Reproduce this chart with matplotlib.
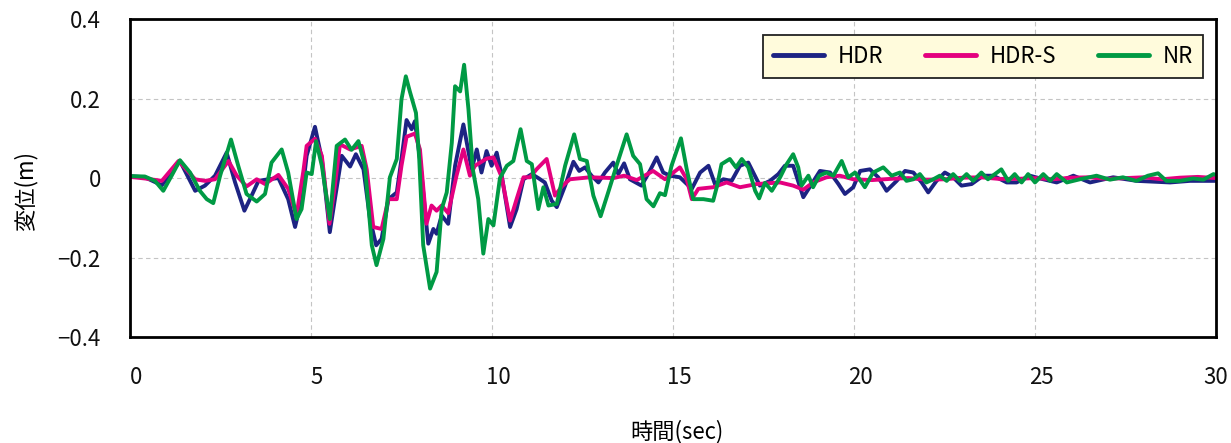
import numpy as np
import matplotlib
matplotlib.use('Agg')
import matplotlib.pyplot as plt
import matplotlib.transforms as mtransforms

plt.rcParams['font.family'] = ['Noto Sans CJK JP', 'DejaVu Sans']

# HDR (navy)
hdr_t = [0, 0.41, 0.88, 1.38, 1.80, 2.07, 2.35, 2.67, 2.90, 3.16, 3.36, 3.55, 3.82, 4.10, 4.37, 4.56,
         4.74, 4.88, 5.11, 5.30, 5.52, 5.66, 5.85, 6.08, 6.24, 6.45, 6.63, 6.80, 6.95, 7.14, 7.37, 7.50,
         7.64, 7.78, 7.87, 8.01, 8.24, 8.38, 8.47, 8.61, 8.79, 8.98, 9.21, 9.44, 9.58, 9.71, 9.85, 9.99,
         10.13, 10.27, 10.50, 10.68, 10.87, 11.10, 11.28, 11.46, 11.65, 11.79, 12.02, 12.25, 12.41, 12.57,
         12.75, 12.94, 13.12, 13.35, 13.49, 13.65, 13.81, 14.13, 14.36, 14.55, 14.73, 14.92, 15.19, 15.52,
         15.75, 15.98, 16.16, 16.39, 16.62, 16.85, 17.08, 17.40, 17.68, 17.91, 18.09, 18.32, 18.60, 18.83,
         19.06, 19.34, 19.57, 19.75, 19.98, 20.17, 20.44, 20.67, 20.90, 21.18, 21.41, 21.64, 21.87, 22.05,
         22.28, 22.51, 22.74, 22.97, 23.25, 23.57, 23.85, 24.22, 24.49, 24.86, 25.23, 25.60, 26.06, 26.52,
         27.16, 27.81, 28.73, 29.28, 30.0]
hdr_v = [0.005, 0.002, -0.018, 0.043, -0.032, -0.019, 0.006, 0.064, -0.01, -0.082, -0.044, -0.007, -0.003,
         0.0, -0.053, -0.123, -0.053, 0.056, 0.129, 0.048, -0.136, -0.053, 0.056, 0.029, 0.06, 0.022, -0.103,
         -0.169, -0.153, -0.053, -0.036, 0.048, 0.146, 0.123, 0.143, 0.048, -0.165, -0.128, -0.14, -0.094,
         -0.115, 0.031, 0.135, 0.022, 0.072, 0.014, 0.068, 0.031, 0.064, 0.006, -0.123, -0.078, -0.003, 0.01,
         0.0, -0.011, -0.057, -0.073, -0.019, 0.041, 0.018, 0.027, 0.006, -0.011, 0.014, 0.039, 0.01, 0.037,
         -0.003, -0.019, 0.018, 0.052, 0.014, 0.006, 0.002, -0.027, 0.014, 0.031, -0.015, -0.003, -0.007,
         0.031, 0.039, -0.019, -0.007, 0.01, 0.031, 0.031, -0.048, -0.015, 0.018, 0.014, -0.015, -0.04,
         -0.023, 0.018, 0.022, 0.002, -0.032, -0.007, 0.018, 0.014, -0.011, -0.036, -0.007, 0.014, 0.002,
         -0.019, -0.015, 0.006, 0.006, -0.011, -0.011, 0.006, -0.003, -0.011, 0.006, -0.011, 0.002, -0.007,
         -0.011, -0.007, -0.007]

# HDR-S (magenta)
hdrs_t = [0, 0.41, 0.88, 1.34, 1.80, 2.07, 2.35, 2.72, 2.95, 3.22, 3.50, 3.73, 4.10, 4.37, 4.60, 4.79,
          4.88, 5.11, 5.30, 5.51, 5.66, 5.80, 6.08, 6.40, 6.54, 6.72, 6.95, 7.14, 7.37, 7.50, 7.64, 7.87,
          8.01, 8.19, 8.33, 8.47, 8.61, 8.79, 9.02, 9.21, 9.39, 9.53, 9.85, 10.04, 10.27, 10.50, 10.68,
          10.87, 11.05, 11.23, 11.51, 11.74, 11.93, 12.15, 12.70, 13.35, 13.65, 14.0, 14.45, 14.78, 15.19,
          15.38, 15.52, 15.70, 16.11, 16.48, 16.85, 17.31, 17.96, 18.32, 18.60, 18.87, 19.24, 19.61, 19.98,
          20.5, 21.0, 21.5, 22.0, 22.5, 23.0, 23.5, 24.0, 24.5, 25.0, 25.5, 26.0, 26.5, 27.0, 27.5, 28.0,
          28.5, 29.0, 29.5, 30.0]
hdrs_v = [0.003, -0.001, -0.007, 0.043, -0.003, -0.007, -0.003, 0.043, 0.006, -0.021, -0.003, -0.015,
          0.008, -0.027, -0.094, 0.018, 0.081, 0.099, 0.056, -0.115, -0.019, 0.085, 0.072, 0.081, 0.022,
          -0.123, -0.128, -0.053, -0.053, 0.031, 0.104, 0.112, 0.072, -0.115, -0.069, -0.082, -0.069, -0.088,
          0.006, 0.072, 0.006, 0.031, 0.049, 0.052, 0.002, -0.107, -0.053, 0.002, 0.002, 0.022, 0.048, -0.044,
          -0.021, -0.003, 0.002, 0.0, 0.006, -0.005, 0.018, -0.003, 0.027, -0.003, -0.053, -0.027, -0.023,
          -0.011, -0.023, -0.015, -0.011, -0.019, -0.029, -0.011, 0.002, 0.006, -0.003, -0.005, -0.002, 0.0,
          -0.004, -0.003, 0.001, 0.002, -0.002, -0.002, 0.0, -0.003, 0.001, 0.002, -0.002, 0.0, 0.002, -0.003,
          0.001, 0.003, 0.0]

# NR (green)
nr_t = [0, 0.41, 0.69, 0.92, 1.15, 1.38, 1.66, 1.93, 2.12, 2.30, 2.49, 2.79, 2.99, 3.22, 3.50, 3.73, 3.91,
        4.19, 4.37, 4.60, 4.74, 4.88, 5.02, 5.14, 5.30, 5.52, 5.71, 5.94, 6.12, 6.31, 6.49, 6.68, 6.81, 7.0,
        7.18, 7.37, 7.50, 7.62, 7.73, 7.90, 7.99, 8.10, 8.29, 8.47, 8.61, 8.75, 8.89, 8.98, 9.12, 9.23, 9.35,
        9.47, 9.62, 9.76, 9.90, 10.04, 10.22, 10.41, 10.59, 10.79, 10.96, 11.10, 11.28, 11.42, 11.56, 11.79,
        12.02, 12.27, 12.43, 12.62, 12.80, 13.0, 13.21, 13.44, 13.72, 13.90, 14.09, 14.27, 14.46, 14.64,
        14.78, 14.96, 15.22, 15.38, 15.56, 15.84, 16.11, 16.22, 16.34, 16.57, 16.74, 16.90, 17.08, 17.27,
        17.38, 17.54, 17.73, 17.96, 18.14, 18.32, 18.46, 18.55, 18.74, 18.87, 19.04, 19.24, 19.43, 19.66,
        19.84, 20.03, 20.3, 20.53, 20.81, 21.04, 21.27, 21.45, 21.64, 21.82, 22.0, 22.19, 22.37, 22.56,
        22.74, 22.92, 23.11, 23.29, 23.52, 23.7, 24.07, 24.26, 24.44, 24.63, 24.81, 25.0, 25.23, 25.42,
        25.6, 25.88, 26.24, 26.7, 27.07, 27.43, 27.8, 28.12, 28.4, 28.63, 29.0, 29.37, 29.65, 29.93, 30.0]
nr_v = [0.005, 0.004, -0.007, -0.032, 0.006, 0.045, 0.014, -0.032, -0.053, -0.063, 0.006, 0.097, 0.031,
        -0.04, -0.059, -0.04, 0.039, 0.072, 0.014, -0.103, -0.078, 0.014, 0.01, 0.093, 0.031, -0.103, 0.081,
        0.097, 0.071, 0.093, 0.031, -0.169, -0.219, -0.153, 0.002, 0.048, 0.198, 0.256, 0.218, 0.164, 0.048,
        -0.169, -0.278, -0.236, -0.078, -0.036, 0.089, 0.231, 0.218, 0.285, 0.173, 0.022, -0.053, -0.19,
        -0.103, -0.119, 0.0, 0.031, 0.043, 0.123, 0.043, 0.035, -0.078, -0.023, -0.069, -0.065, 0.031, 0.11,
        0.048, 0.043, -0.044, -0.096, -0.036, 0.031, 0.11, 0.056, 0.035, -0.053, -0.071, -0.038, -0.043,
        0.031, 0.1, 0.022, -0.053, -0.053, -0.057, -0.019, 0.035, 0.048, 0.027, 0.048, 0.027, -0.032, -0.051,
        -0.012, -0.032, 0.002, 0.035, 0.06, 0.027, -0.019, 0.006, -0.023, 0.006, 0.014, 0.006, 0.043, 0.002,
        0.014, -0.023, 0.014, 0.027, 0.006, 0.014, -0.007, -0.003, 0.01, -0.011, -0.003, 0.006, -0.007, 0.01,
        -0.007, 0.01, -0.007, 0.014, -0.003, 0.022, -0.007, 0.01, -0.011, 0.01, -0.011, 0.01, -0.007, 0.01,
        -0.011, -0.003, 0.006, -0.004, 0.002, -0.007, 0.006, 0.012, -0.007, -0.007, -0.001, -0.004, 0.01,
        0.008]

x_ticks = [0, 5, 10, 15, 20, 25, 30]
y_ticks = [-0.4, -0.2, 0, 0.2, 0.4]
y_ticklabels = ['\u22120.4', '\u22120.2', '0', '0.2', '0.4']

series = [('HDR', hdr_t, hdr_v, '#1d2383'),
          ('HDR-S', hdrs_t, hdrs_v, '#e4007f'),
          ('NR', nr_t, nr_v, '#009a44')]

fig = plt.figure(figsize=(12.31, 4.43), dpi=100)
ax = fig.add_axes([0.1056, 0.239, 0.8822, 0.718])

for name, t, v, c in series:
    ax.plot(t, v, color=c, lw=2.8, label=name, solid_joinstyle='round', solid_capstyle='round')

ax.set_xlim(0, 30)
ax.set_ylim(-0.4, 0.4)
ax.set_xticks(x_ticks)
ax.set_yticks(y_ticks)
ax.set_yticklabels(y_ticklabels)
ax.tick_params(length=0, labelsize=16, colors='#111111')
ax.tick_params(axis='x', pad=21)
ax.tick_params(axis='y', pad=21)
# x tick labels sit a little right of the grid lines in the original (except the last)
shift = mtransforms.ScaledTranslation(6 / 100, 0, fig.dpi_scale_trans)
for lab in ax.get_xticklabels()[:-1]:
    lab.set_transform(lab.get_transform() + shift)

ax.grid(True, color='#c4c4c4', linestyle=(0, (4, 3)), lw=0.8)
for s in ax.spines.values():
    s.set_linewidth(2.0)
    s.set_color('black')

ax.set_xlabel('時間(sec)', fontsize=16, va='center')
ax.set_ylabel('変位(m)', fontsize=16, va='center')
ax.xaxis.set_label_coords(0.504, -0.296)
ax.yaxis.set_label_coords(-0.096, 0.46)

leg = ax.legend(loc='upper right', bbox_to_anchor=(0.988, 0.95), borderaxespad=0, ncol=3,
                fontsize=16, frameon=True, fancybox=False, handlelength=2.3, columnspacing=1.9,
                handletextpad=0.6, borderpad=0.45)
leg.get_frame().set_facecolor('#fffbdc')
leg.get_frame().set_edgecolor('#222222')
leg.get_frame().set_linewidth(1.3)
leg.get_frame().set_alpha(1)
for line in leg.get_lines():
    line.set_linewidth(3.5)

fig.savefig('out.png', dpi=100)
